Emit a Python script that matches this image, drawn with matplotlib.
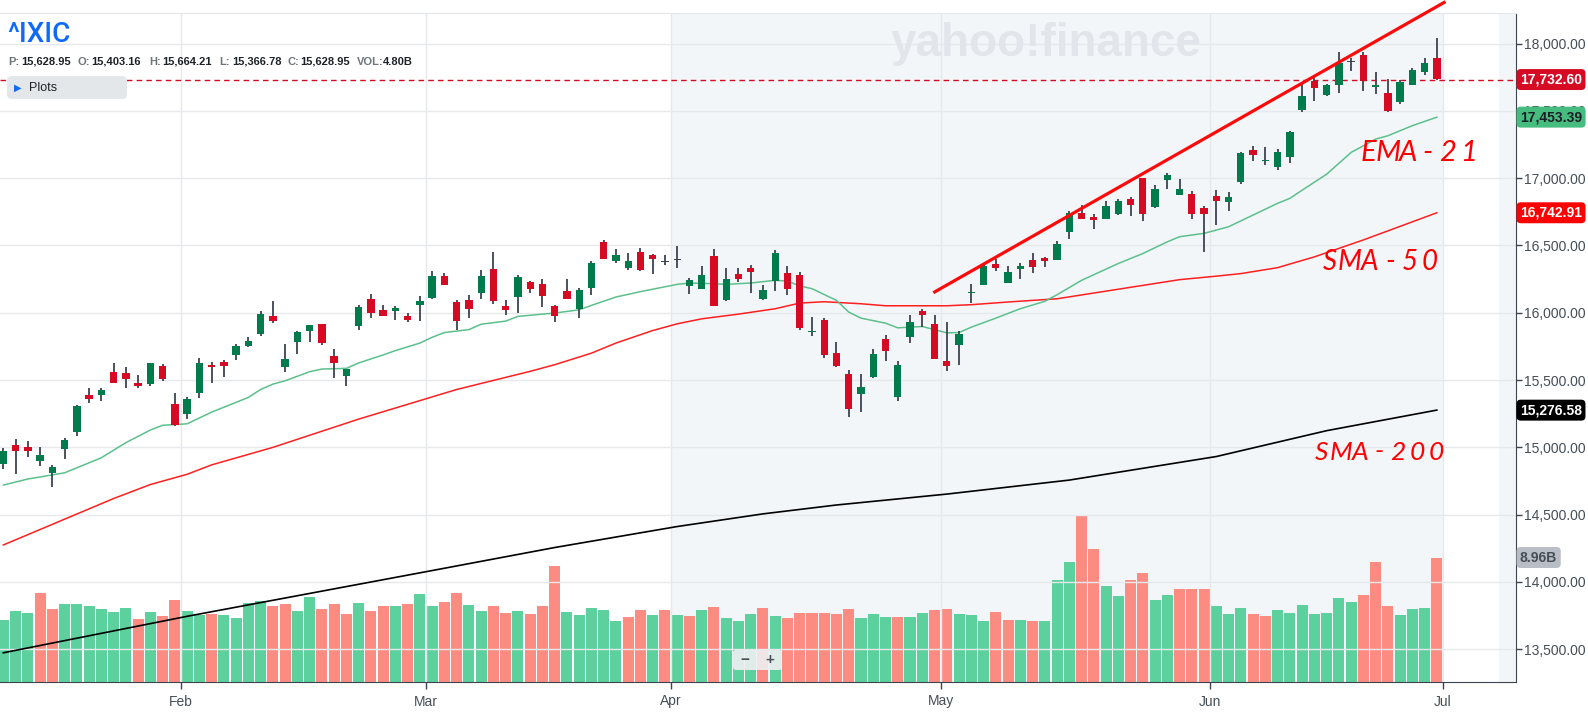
import matplotlib
matplotlib.use("Agg")
import matplotlib.pyplot as plt
import matplotlib.transforms as mtransforms
from matplotlib.patches import FancyBboxPatch
import numpy as np

plt.rcParams['font.family'] = ['Liberation Sans', 'DejaVu Sans']

# --- Data: ^IXIC daily candles, 10 Jan - 28 Jun 2024 ---
opens = [14873, 15017, 15005, 14900, 14811, 14990, 15117, 15390, 15386, 15562,
         15555, 15475, 15468, 15607, 15323, 15251, 15403, 15614, 15637, 15684,
         15756, 15841, 15978, 15595, 15781, 15863, 15913, 15682, 15527, 15901,
         16099, 16017, 16012, 15973, 16057, 16109, 16271, 16077, 16092, 16147,
         16323, 16052, 16117, 16226, 16211, 16047, 16159, 16025, 16182, 16525,
         16383, 16331, 16450, 16428, 16381, 16394, 16196, 16174, 16420, 16092,
         16286, 16331, 16099, 16239, 16293, 16279, 15858, 15943, 15704, 15547,
         15393, 15520, 15808, 15371, 15818, 16010, 15920, 15644, 15759, 16149,
         16206, 16361, 16221, 16323, 16390, 16405, 16393, 16602, 16741, 16711,
         16699, 16734, 16846, 17002, 16786, 16990, 16878, 16883, 16779, 16868,
         16823, 16973, 17211, 17124, 17085, 17159, 17505, 17719, 17617, 17691,
         17860, 17913, 17678, 17636, 17564, 17689, 17786, 17890]
highs = [14993, 15065, 15047, 15003, 14870, 15070, 15312, 15443, 15440, 15629,
         15600, 15540, 15629, 15622, 15405, 15376, 15664, 15634, 15652, 15769,
         15818, 16010, 16085, 15769, 15861, 15910, 15920, 15734, 15585, 16060,
         16137, 16055, 16047, 16000, 16122, 16308, 16293, 16092, 16129, 16316,
         16450, 16092, 16279, 16234, 16249, 16055, 16249, 16182, 16383, 16540,
         16473, 16443, 16480, 16435, 16428, 16495, 16256, 16346, 16473, 16331,
         16331, 16353, 16204, 16465, 16346, 16301, 15965, 15958, 15786, 15577,
         15542, 15734, 15838, 15644, 15980, 16025, 15980, 15928, 15868, 16211,
         16353, 16398, 16346, 16368, 16443, 16413, 16532, 16756, 16799, 16734,
         16831, 16846, 16861, 17002, 16950, 17040, 16995, 16905, 16794, 16913,
         16898, 17196, 17241, 17234, 17219, 17353, 17714, 17741, 17696, 17935,
         17895, 17935, 17786, 17734, 17726, 17816, 17890, 18040]
lows = [14841, 14804, 14930, 14863, 14707, 14916, 15087, 15333, 15343, 15475,
        15438, 15438, 15453, 15490, 15162, 15214, 15367, 15478, 15522, 15647,
        15744, 15831, 15923, 15557, 15692, 15781, 15759, 15513, 15453, 15871,
        15960, 15975, 15945, 15930, 15938, 16102, 16206, 15871, 15960, 16102,
        16065, 15983, 15998, 16147, 16040, 15930, 16099, 15958, 16129, 16398,
        16368, 16316, 16308, 16286, 16353, 16331, 16137, 16174, 16047, 16087,
        16226, 16144, 16092, 16159, 16129, 15871, 15826, 15662, 15595, 15229,
        15266, 15515, 15639, 15348, 15774, 15898, 15654, 15565, 15610, 16072,
        16206, 16311, 16221, 16251, 16296, 16338, 16393, 16550, 16698, 16624,
        16699, 16729, 16719, 16684, 16779, 16920, 16878, 16697, 16450, 16652,
        16756, 16958, 17129, 17099, 17062, 17114, 17490, 17572, 17609, 17636,
        17796, 17651, 17624, 17490, 17549, 17689, 17764, 17731]
closes = [14970, 14971, 14973, 14944, 14856, 15055, 15308, 15356, 15428, 15478,
          15508, 15455, 15628, 15508, 15164, 15360, 15629, 15596, 15608, 15756,
          15793, 15990, 15942, 15656, 15859, 15906, 15775, 15630, 15580, 16041,
          15996, 15976, 16035, 15947, 16091, 16274, 16207, 15940, 16031, 16273,
          16085, 16019, 16265, 16177, 16128, 15973, 16103, 16166, 16369, 16401,
          16428, 16384, 16315, 16399, 16379, 16396, 16240, 16277, 16049, 16248,
          16254, 16306, 16170, 16442, 16175, 15885, 15865, 15683, 15601, 15282,
          15451, 15697, 15713, 15612, 15928, 15983, 15658, 15605, 15841, 16156,
          16349, 16333, 16303, 16346, 16341, 16388, 16511, 16742, 16698, 16686,
          16795, 16833, 16802, 16736, 16921, 17020, 16921, 16737, 16735, 16829,
          16857, 17188, 17173, 17133, 17193, 17344, 17608, 17668, 17689, 17857,
          17862, 17722, 17689, 17497, 17718, 17805, 17859, 17733]
volume_b = [4.43, 5.08, 4.94, 6.38, 5.23, 5.59, 5.59, 5.44, 5.23, 5.01,
            5.30, 4.50, 5.01, 4.72, 5.88, 5.08, 4.80, 4.87, 4.80, 4.58,
            5.66, 5.80, 5.44, 5.59, 5.08, 6.09, 5.23, 5.59, 4.87, 5.66,
            5.08, 5.44, 5.44, 5.59, 6.30, 5.44, 5.73, 6.38, 5.52, 5.08,
            5.44, 4.94, 5.08, 4.87, 5.44, 8.32, 5.01, 4.80, 5.30, 5.15,
            4.36, 4.65, 5.15, 4.80, 5.15, 4.80, 4.72, 5.15, 5.37, 4.58,
            4.36, 4.87, 5.30, 4.72, 4.58, 4.94, 4.98, 4.98, 4.91, 5.27,
            4.63, 4.91, 4.70, 4.70, 4.70, 4.98, 5.20, 5.27, 4.91, 4.84,
            4.41, 5.06, 4.48, 4.48, 4.41, 4.41, 7.31, 8.61, 11.99, 9.59,
            6.88, 6.21, 7.31, 7.81, 5.87, 6.28, 6.66, 6.66, 6.66, 5.44,
            4.91, 5.34, 4.91, 4.77, 5.20, 4.98, 5.56, 4.91, 4.98, 6.06,
            5.78, 6.28, 8.61, 5.49, 4.84, 5.27, 5.34, 8.96]

# month labels and the trading-day index of each month's first session
months = ["Feb", "Mar", "Apr", "May", "Jun", "Jul"]
month_first_idx = [15, 35, 55, 77, 99, 118]

# indicator lines (trading-day index, value)
ema21_idx = [0, 2, 5, 8, 10, 12, 13, 15, 17, 20, 21, 22, 23, 25, 26, 28, 29, 31, 32, 34,
             35, 36, 38, 39, 41, 42, 45, 47, 48, 50, 52, 55, 56, 58, 59, 61, 63, 64, 65, 66,
             68, 69, 70, 72, 73, 75, 77, 78, 79, 81, 83, 85, 86, 88, 91, 93, 95, 96, 98, 100,
             102, 104, 105, 107, 108, 110, 112, 113, 115, 117]
ema21_val = [14720, 14765, 14811, 14923, 15035, 15129, 15164, 15175, 15262, 15371,
             15430, 15470, 15495, 15562, 15582, 15587, 15627, 15687, 15719, 15775,
             15818, 15853, 15875, 15915, 15938, 15973, 15998, 16022, 16055, 16117,
             16157, 16211, 16221, 16216, 16211, 16221, 16241, 16236, 16199, 16179,
             16092, 16005, 15960, 15923, 15888, 15898, 15851, 15853, 15893, 15960,
             16030, 16085, 16134, 16241, 16366, 16440, 16527, 16565, 16590, 16639,
             16726, 16813, 16850, 16970, 17029, 17191, 17290, 17315, 17390, 17453]
sma50_idx = [0, 9, 12, 15, 17, 22, 29, 37, 43, 45, 48, 50, 53, 55, 57, 60, 63, 65, 67, 70,
             72, 75, 77, 79, 82, 86, 91, 96, 99, 101, 104, 105, 107, 111, 117]
sma50_val = [14275, 14620, 14724, 14800, 14870, 15000, 15210, 15430, 15565, 15614,
             15700, 15775, 15868, 15918, 15955, 15990, 16030, 16072, 16082, 16067,
             16052, 16052, 16052, 16060, 16080, 16104, 16175, 16246, 16272, 16291,
             16335, 16362, 16415, 16541, 16743]
sma200_idx = [0, 15, 35, 45, 55, 62, 68, 77, 87, 99, 108, 117]
sma200_val = [13474, 13745, 14085, 14256, 14412, 14506, 14572, 14653, 14757, 14932, 15124, 15277]

# hand-drawn trend line (start / end)
trend_idx = [75.9, 117.7]
trend_val = [16149, 18311]

last_price = 17732.60
ema_last, sma50_last, sma200_last = 17453.39, 16742.91, 15276.58

# --- colours ---
GREEN, RED, WICK = "#007b4b", "#d60a22", "#3d4450"
VOL_UP, VOL_DN = "#5cd19d", "#fc8c82"
SHADE = "#f3f6f9"
AXIS_TXT = "#464e56"

W, H = 1588, 714
fx = lambda x: x / W
fy = lambda y: 1 - y / H

fig = plt.figure(figsize=(W / 100, H / 100), dpi=100)
rect = [0, fy(682), fx(1516), (682 - 13) / H]
axv = fig.add_axes(rect)
ax = fig.add_axes(rect)
ax.patch.set_visible(False)

xlim = (-0.273, 123.46)
for a in (ax, axv):
    a.set_xlim(*xlim)

# --- volume (background axes) ---
n = len(closes)
idx = np.arange(n)
o, h, l, c = map(np.array, (opens, highs, lows, closes))
prev = np.r_[c[0] - 1, c[:-1]]
vcol = np.where(c >= prev, VOL_UP, VOL_DN)
axv.axvspan(month_first_idx[2] - 0.5, month_first_idx[-1] - 0.5, color=SHADE, zorder=0, lw=0)
axv.axvspan(122.07, xlim[1], color=SHADE, zorder=0, lw=0)
axv.bar(idx, volume_b, width=0.9, color=vcol, zorder=2)
axv.set_ylim(0, 48.15)
axv.set_xticks([])
axv.set_yticks([])
for s in axv.spines.values():
    s.set_visible(False)

# --- price axes ---
ax.set_ylim(13257, 18227)
ax.set_axisbelow(True)
ax.grid(True, color="#e6e9ec", lw=1)

ax.plot(sma200_idx, sma200_val, color="black", lw=1.2, zorder=3)
ax.plot(sma50_idx, sma50_val, color="#ff1f1f", lw=1.1, zorder=3)
ax.plot(ema21_idx, ema21_val, color="#5cc08c", lw=1.1, zorder=3)

# candles
doji = np.abs(c - o) < 4
body_col = np.where(doji, WICK, np.where(c > o, GREEN, RED))
ax.vlines(idx, l, h, color=WICK, lw=1.3, zorder=4)
ax.bar(idx, np.maximum(np.abs(c - o), 9), bottom=np.minimum(o, c), width=0.6,
       color=body_col, zorder=5)

ax.axhline(last_price, color=RED, lw=1, ls=(0, (4, 3)), zorder=3)
ax.plot(trend_idx, trend_val, color="#ff0a0a", lw=2.3, zorder=6, clip_on=False,
        solid_capstyle="butt")

# watermark
ax.text(fx(1046), fy(44), "yahoo!finance", transform=fig.transFigure, ha="center",
        va="center", fontsize=33, fontweight="bold", color="#e2e5ea", zorder=1)

# axes styling
ax.yaxis.tick_right()
ax.set_yticks(range(13500, 18001, 500))
ax.set_yticklabels([f"{v:,.2f}" for v in range(13500, 18001, 500)])
ax.set_xticks([m - 0.5 for m in month_first_idx])
ax.set_xticklabels(months)
ax.tick_params(axis="y", length=4, width=1, color=WICK, labelsize=10,
               labelcolor=AXIS_TXT, pad=2)
ax.tick_params(axis="x", length=5, width=1, color=WICK, labelsize=10,
               labelcolor=AXIS_TXT, pad=4)
ax.spines["left"].set_visible(False)
ax.spines["top"].set_color("#e3e6ea")
ax.spines["right"].set_color(WICK)
ax.spines["bottom"].set_color(WICK)

# price tags on the right axis
tag_tr = mtransforms.blended_transform_factory(fig.transFigure, ax.transData)
vol_tr = mtransforms.blended_transform_factory(fig.transFigure, axv.transData)


def tag(y, s, fc, tc, tr):
    ax.text(fx(1520), y, s, transform=tr, ha="left", va="center", fontsize=10,
            fontweight="bold", color=tc, zorder=10,
            bbox=dict(boxstyle="round,pad=0.25,rounding_size=0.3", fc=fc, ec="none"))


tag(last_price, f"{last_price:,.2f}", RED, "white", tag_tr)
tag(ema_last, f"{ema_last:,.2f}", "#46bd7f", "#1b2026", tag_tr)
tag(sma50_last, f"{sma50_last:,.2f}", "#ff0000", "white", tag_tr)
tag(sma200_last, f"{sma200_last:,.2f}", "black", "white", tag_tr)
tag(volume_b[-1], f"{volume_b[-1]:.2f}B", "#b9bdc5", AXIS_TXT, vol_tr)

# --- header ---
fig.text(fx(7), fy(34), "^IXIC", fontsize=20, color="#0f69ff", va="center", ha="left",
         family=["Roboto", "Liberation Sans"], fontweight="medium")
header = [("P:", "15,628.95", 8), ("O:", "15,403.16", 78), ("H:", "15,664.21", 149),
          ("L:", "15,366.78", 219), ("C:", "15,628.95", 287), ("VOL:", "4.80B", 357)]
for lab, val, x in header:
    fig.text(fx(x), fy(62), lab, fontsize=8, fontweight="bold", color="#6e7479",
             va="center", ha="left")
    fig.text(fx(x + (26 if lab == "VOL:" else 13)), fy(62), val, fontsize=8,
             fontweight="bold", color="#1d2228", va="center", ha="left")

ident = mtransforms.IdentityTransform()
fig.add_artist(FancyBboxPatch((7, H - 99), 120, 23, boxstyle="round,pad=0,rounding_size=5",
                              transform=ident, fc="#e3e7ea", ec="none"))
fig.text(fx(18), fy(88), "\u25B6", fontsize=7, color="#0f69ff", va="center", ha="center",
         family="DejaVu Sans")
fig.text(fx(29), fy(88), "Plots", fontsize=9, color="#1d2228", va="center", ha="left")

# zoom control
fig.add_artist(FancyBboxPatch((733, H - 670), 49, 20, boxstyle="round,pad=0,rounding_size=3",
                              transform=ident, fc="#eef0f3", ec="none", alpha=0.9))
fig.text(fx(745), fy(660), "\u2212", fontsize=11, fontweight="bold", color=AXIS_TXT,
         va="center", ha="center")
fig.text(fx(770), fy(660), "+", fontsize=11, fontweight="bold", color=AXIS_TXT,
         va="center", ha="center")


# --- hand-written labels ---
def hand(text, x0, step, y, size):
    for k, ch in enumerate(text):
        fig.text(fx(x0 + k * step), fy(y), ch, ha="center", va="center", fontsize=size,
                 style="italic", fontweight="normal", color="#ff0000",
                 family=["Lato", "DejaVu Sans"])


hand("EMA-21", 1368, 20, 153, 21)
hand("SMA-50", 1330, 20, 262, 20)
hand("SMA-200", 1322, 19, 452, 19)

fig.savefig("out.png", dpi=100)
